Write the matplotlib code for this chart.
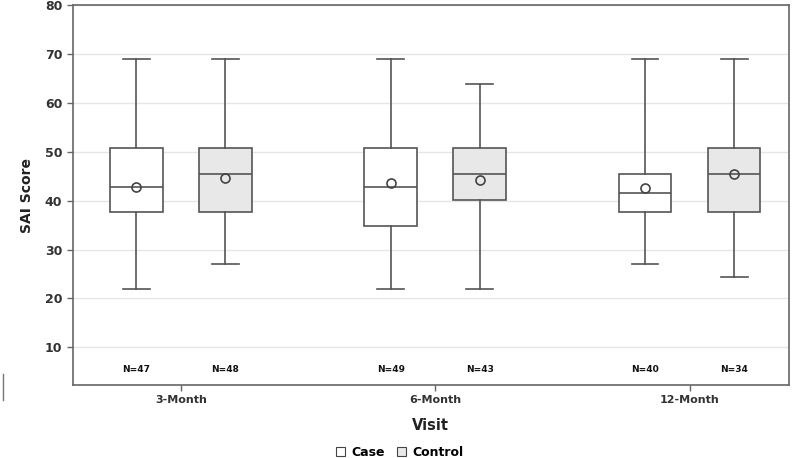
import matplotlib
matplotlib.use('Agg')
from matplotlib import pyplot as plt
from matplotlib.patches import Patch
from matplotlib.lines import Line2D

## data
visits = ['3-Month', '6-Month', '12-Month']
groups = ['Case', 'Control']

case_low = [21.9, 21.9, 27.0]
case_q1 = [37.6, 34.9, 37.6]
case_med = [42.8, 42.8, 41.5]
case_mean = [42.9, 43.6, 42.6]
case_q3 = [50.8, 50.8, 45.5]
case_high = [69.1, 69.1, 69.1]
case_n = [47, 49, 40]

ctrl_low = [27.0, 21.9, 24.4]
ctrl_q1 = [37.6, 40.2, 37.6]
ctrl_med = [45.5, 45.5, 45.5]
ctrl_mean = [44.7, 44.3, 45.4]
ctrl_q3 = [50.8, 50.8, 50.8]
ctrl_high = [69.1, 63.8, 69.1]
ctrl_n = [48, 43, 34]

edge = '#555555'
fills = ['white', '#e8e8e8']
offset = 0.175
width = 0.208

def make_stats(low, q1, med, mean, q3, high):
    out = []
    for i in range(len(low)):
        out.append({'whislo': low[i], 'q1': q1[i], 'med': med[i], 'mean': mean[i],
                    'q3': q3[i], 'whishi': high[i], 'fliers': []})
    return out

fig = plt.figure(figsize=(8, 4.58), dpi=100)
ax = fig.add_axes([0.0909, 0.1594, 0.895, 0.8289])

all_stats = [make_stats(case_low, case_q1, case_med, case_mean, case_q3, case_high),
             make_stats(ctrl_low, ctrl_q1, ctrl_med, ctrl_mean, ctrl_q3, ctrl_high)]
all_n = [case_n, ctrl_n]

for g in range(2):
    pos = [i + (g * 2 - 1) * offset for i in range(len(visits))]
    ax.bxp(all_stats[g], positions=pos, widths=width, showmeans=True,
           patch_artist=True, showfliers=False,
           boxprops=dict(facecolor=fills[g], edgecolor=edge, linewidth=1.2),
           medianprops=dict(color=edge, linewidth=1.2),
           whiskerprops=dict(color=edge, linewidth=1.2),
           capprops=dict(color=edge, linewidth=1.2),
           capwidths=0.106,
           meanprops=dict(marker='o', markerfacecolor='none', markeredgecolor='#444444',
                          markersize=6.5, markeredgewidth=1.2),
           zorder=3)
    for i in range(len(visits)):
        ax.text(pos[i], 5.4, 'N=%d' % all_n[g][i], ha='center', va='center',
                fontsize=6.5, fontweight='bold', color='#111111')

ax.set_xlim(-0.425, 2.39)
ax.set_ylim(2.27, 80)
ax.set_yticks(range(10, 81, 10))
ax.set_xticks(range(len(visits)))
ax.set_xticklabels(visits, fontsize=8, fontweight='bold', color='#333333')
for lab in ax.get_yticklabels():
    lab.set_fontsize(9)
    lab.set_fontweight('bold')
    lab.set_color('#333333')
ax.yaxis.grid(True, color='#e6e6e6', linewidth=1)
ax.set_axisbelow(True)
for s in ax.spines.values():
    s.set_color('#666666')
    s.set_linewidth(1.2)
ax.tick_params(axis='both', colors='#666666', length=4, width=1)
ax.tick_params(axis='x', labelcolor='#333333')
ax.tick_params(axis='y', labelcolor='#333333')

ax.set_ylabel('SAI Score', fontsize=10, fontweight='bold', color='#222222', labelpad=8)
ax.set_xlabel('Visit', fontsize=10.5, fontweight='bold', color='#222222', labelpad=9)

handles = [Patch(facecolor=fills[g], edgecolor='#444444', linewidth=0.8) for g in range(2)]
fig.legend(handles, groups, loc='center', bbox_to_anchor=(0.5, 0.012), ncol=2, frameon=False,
           prop=dict(size=9, weight='bold'), handlelength=0.7, handleheight=0.7,
           handletextpad=0.5, columnspacing=1.0)

## small stray mark at the left edge of the original
fig.add_artist(Line2D([0.004, 0.004], [1 - 400 / 458, 1 - 374 / 458], color='#777777',
                      linewidth=1, transform=fig.transFigure))

plt.savefig('out.png', dpi=100)
